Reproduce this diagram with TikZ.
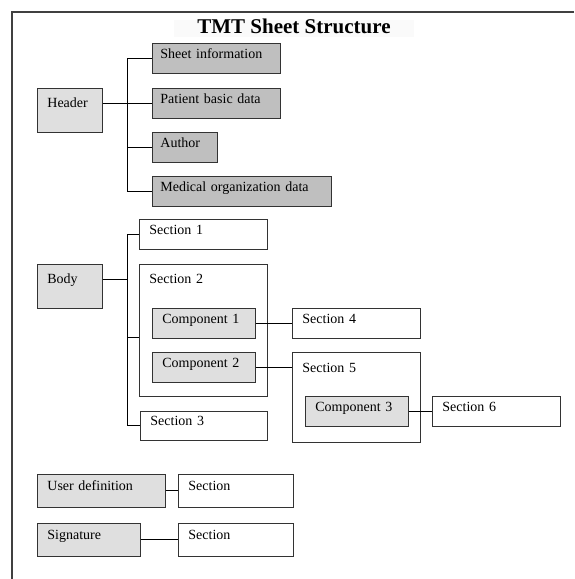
\documentclass[tikz,border=0pt]{standalone}
\usepackage{fontspec}
\setmainfont{Liberation Serif}
\tikzset{
  tbox/.style={draw=black!80, line width=0.8pt, anchor=north west, inner xsep=10pt, inner ysep=0pt, align=left},
  sbox/.style={tbox, text height=15pt, text depth=15pt},
  ubox/.style={tbox, text height=16pt, text depth=17pt},
  dark/.style={fill=gray!50, inner xsep=8pt},
  light/.style={fill=gray!25},
  conn/.style={line width=0.9pt},
  frame/.style={draw=black!75, line width=1.3pt},
}
\begin{document}
\begin{tikzpicture}[x=1pt, y=-1pt, every node/.style={font=\fontsize{14}{16}\selectfont}]
  \useasboundingbox (0,0) rectangle (574,579);
  \draw[frame] (574,12) -- (12,12) -- (12,579);
  \node[fill=gray!4, minimum width=240pt, inner sep=0pt, text height=13pt, text depth=4pt, anchor=north, font=\fontsize{21}{24}\selectfont\bfseries] (title) at (294,20) {TMT Sheet Structure};

  % header
  \node[tbox, light, text width=45pt, text height=19pt, text depth=25pt] (header) at (37,88) {Header};
  \node[sbox, dark, text width=112pt] (sheetinfo) at (152,43) {Sheet information};
  \node[sbox, dark, text width=112pt] (patient) at (152,88) {Patient basic data};
  \node[sbox, dark, text width=49pt] (author) at (152,132) {Author};
  \node[sbox, dark, text width=163pt] (medorg) at (152,176) {Medical organization data};

  \draw[conn] (header.east |- patient.west) -- (patient.west);
  \draw[conn] (sheetinfo.west) -- ++(-25,0) |- (medorg.west);
  \draw[conn] (author.west) -- ++(-25,0);

  % body
  \node[tbox, light, text width=45pt, text height=19pt, text depth=25pt] (body) at (37,264) {Body};
  \node[sbox, text width=108pt] (sec1) at (139,219) {Section 1};
  \node[tbox, text width=108pt, text height=19pt, text depth=113pt] (sec2) at (139,264) {Section 2};
  \node[sbox, light, text width=83pt] (comp1) at (152,308) {Component 1};
  \node[sbox, light, text width=83pt] (comp2) at (152,352) {Component 2};
  \node[tbox, text width=107pt, text height=14pt, text depth=15pt] (sec3) at (140,411) {Section 3};
  \node[sbox, text width=108pt] (sec4) at (292,308) {Section 4};
  \node[tbox, text width=108pt, text height=20pt, text depth=70pt] (sec5) at (292,352) {Section 5};
  \node[sbox, light, text width=83pt] (comp3) at (305,396) {Component 3};
  \node[sbox, text width=108pt] (sec6) at (432,396) {Section 6};

  \draw[conn] ([yshift=7pt]body.east) -- ++(25,0);
  \draw[conn] (sec1.west) -- ++(-12,0) |- (sec3.west);
  \draw[conn] ([yshift=-7pt]sec2.west) -- ++(-12,0);
  \draw[conn] (comp1.east) -- (sec4.west);
  \draw[conn] (comp2.east) -- (comp2.east -| sec5.west);
  \draw[conn] (comp3.east) -- (sec6.west);

  % user definition, signature
  \node[ubox, light, text width=108pt] (userdef) at (37,474) {User definition};
  \node[ubox, text width=95pt] (usersec) at (178,474) {Section};
  \node[ubox, light, text width=83pt] (sign) at (37,523) {Signature};
  \node[ubox, text width=95pt] (signsec) at (178,523) {Section};

  \draw[conn] (userdef) -- (usersec);
  \draw[conn] (sign) -- (signsec);
\end{tikzpicture}
\end{document}
